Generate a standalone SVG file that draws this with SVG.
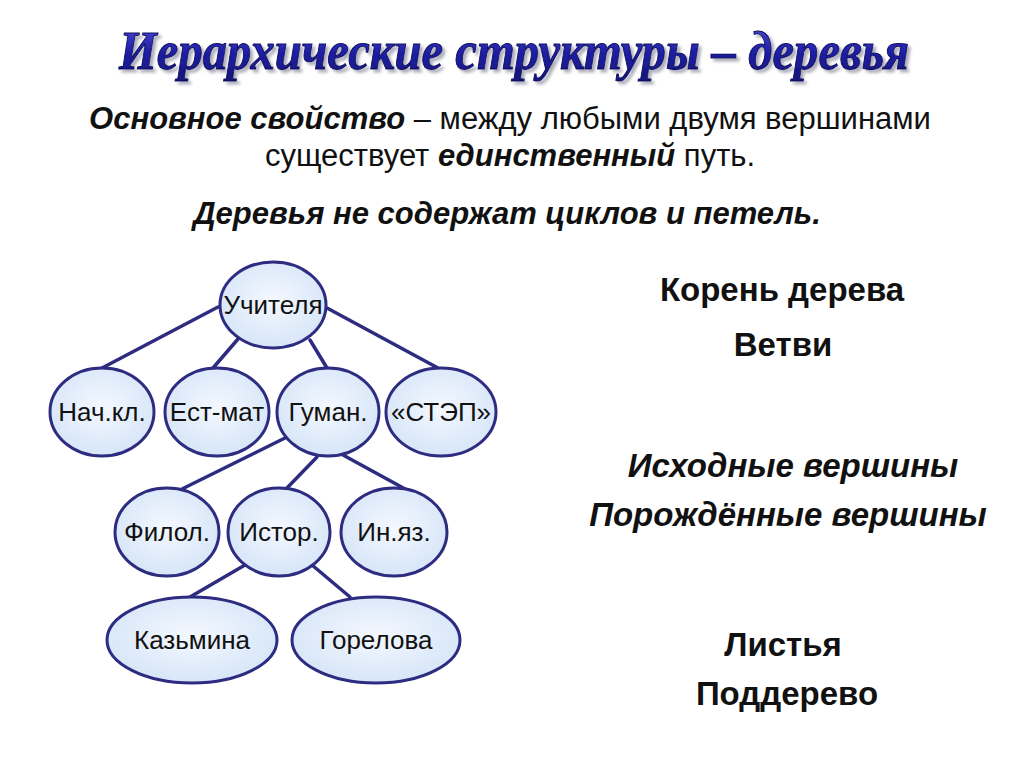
<svg xmlns="http://www.w3.org/2000/svg" width="1024" height="767" viewBox="0 0 1024 767">
<defs>
<radialGradient id="nodeFill" cx="0.5" cy="0.45" r="0.6">
<stop offset="0" stop-color="#f4f8fe"/>
<stop offset="1" stop-color="#d4e4f8"/>
</radialGradient>
<linearGradient id="titleFill" x1="0" y1="0" x2="0" y2="1">
<stop offset="0" stop-color="#5050d8"/>
<stop offset="0.5" stop-color="#2020a8"/>
<stop offset="1" stop-color="#141478"/>
</linearGradient>
<filter id="titleShadow" x="-5%" y="-30%" width="110%" height="160%">
<feDropShadow dx="3" dy="3" stdDeviation="1.5" flood-color="#8a8aa0" flood-opacity="0.7"/>
</filter>
</defs>
<style>
.node ellipse{fill:url(#nodeFill);stroke:#2e2c80;stroke-width:3}
.node text{font-family:"Liberation Sans",Arial,sans-serif;font-size:26px;fill:#111;text-anchor:middle}
.edges line{stroke:#2e2c80;stroke-width:3.5;stroke-linecap:round}
.body{font-family:"Liberation Sans",Arial,sans-serif;font-size:31px;fill:#111;text-anchor:middle}
.term{font-family:"Liberation Sans",Arial,sans-serif;font-size:33px;font-weight:bold;fill:#111;text-anchor:middle}
.bi{font-weight:bold;font-style:italic}
</style>
<rect width="1024" height="767" fill="#ffffff"/>

<g id="title">
<text x="514" y="69" font-family="'Liberation Serif',serif" font-size="54" font-weight="bold" font-style="italic" text-anchor="middle" fill="url(#titleFill)" stroke="#0c0c60" stroke-width="1" filter="url(#titleShadow)" textLength="790" lengthAdjust="spacingAndGlyphs">Иерархические структуры – деревья</text>
</g>

<g id="intro">
<text class="body" x="510" y="129"><tspan class="bi">Основное свойство</tspan> – между любыми двумя вершинами</text>
<text class="body" x="510" y="166">существует <tspan class="bi">единственный</tspan> путь.</text>
<text class="body bi" x="507" y="224">Деревья не содержат циклов и петель.</text>
</g>

<g class="edges" id="connectors">
<line x1="218" y1="307" x2="102" y2="368"/>
<line x1="238" y1="339" x2="213" y2="368"/>
<line x1="310" y1="340" x2="327" y2="368"/>
<line x1="327" y1="308" x2="438" y2="368"/>
<line x1="285" y1="438" x2="182" y2="489"/>
<line x1="317" y1="457" x2="287" y2="488"/>
<line x1="343" y1="455" x2="407" y2="490"/>
<line x1="245" y1="565" x2="190" y2="597"/>
<line x1="312" y1="565" x2="350" y2="597"/>
</g>

<g class="node" id="n-uchitelya"><ellipse cx="273" cy="305" rx="53" ry="43"/><text x="273" y="314">Учителя</text></g>
<g class="node" id="n-nachkl"><ellipse cx="102" cy="412" rx="52" ry="44"/><text x="102" y="421">Нач.кл.</text></g>
<g class="node" id="n-estmat"><ellipse cx="217" cy="412" rx="52" ry="44"/><text x="217" y="421">Ест-мат</text></g>
<g class="node" id="n-guman"><ellipse cx="328" cy="412" rx="51" ry="44"/><text x="328" y="421">Гуман.</text></g>
<g class="node" id="n-step"><ellipse cx="441" cy="412" rx="55" ry="44"/><text x="441" y="421">«СТЭП»</text></g>
<g class="node" id="n-filol"><ellipse cx="167" cy="532" rx="52" ry="44"/><text x="167" y="541">Филол.</text></g>
<g class="node" id="n-istor"><ellipse cx="279" cy="532" rx="51" ry="44"/><text x="279" y="541">Истор.</text></g>
<g class="node" id="n-inyaz"><ellipse cx="394" cy="532" rx="53" ry="44"/><text x="394" y="541">Ин.яз.</text></g>
<g class="node" id="n-kazmina"><ellipse cx="192" cy="640" rx="85" ry="43"/><text x="192" y="649">Казьмина</text></g>
<g class="node" id="n-gorelova"><ellipse cx="376" cy="640" rx="84" ry="43"/><text x="376" y="649">Горелова</text></g>

<g id="terms">
<text class="term" x="782" y="301">Корень дерева</text>
<text class="term" x="783" y="356">Ветви</text>
<text class="term" x="793" y="477" font-style="italic">Исходные вершины</text>
<text class="term" x="788" y="526" font-style="italic">Порождённые вершины</text>
<text class="term" x="783" y="656">Листья</text>
<text class="term" x="787" y="705">Поддерево</text>
</g>
</svg>
